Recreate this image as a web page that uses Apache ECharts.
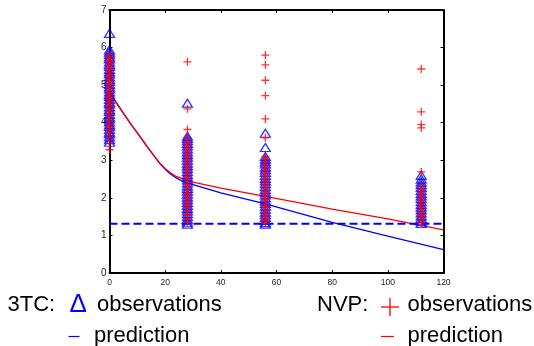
<!DOCTYPE html>
<html>
<head>
<meta charset="utf-8">
<script src="https://cdn.jsdelivr.net/npm/echarts@6/dist/echarts.min.js"></script>
<style>html,body{margin:0;padding:0;background:#fff;}#c{width:534px;height:346px;}</style>
</head>
<body>
<div id="c"></div>
<script>
// Observation times (weeks)
const obsTimes = [0, 28, 56, 112];
// 3TC observations per time
const tc3Obs0 = [6.38, 5.94, 5.88, 5.82, 5.75, 5.7, 5.62, 5.55, 5.5, 5.42, 5.35, 5.3, 5.22, 5.15, 5.1, 5.02, 4.95, 4.9, 4.82, 4.75, 4.7, 4.62, 4.55, 4.5, 4.42, 4.35, 4.3, 4.22, 4.15, 4.1, 4.02, 3.95, 3.9, 3.82, 3.75, 3.7, 3.62, 3.55, 3.48];
const tc3Obs28 = [4.52, 3.64, 3.58, 3.52, 3.45, 3.38, 3.3, 3.22, 3.15, 3.08, 3.0, 2.92, 2.85, 2.78, 2.7, 2.62, 2.55, 2.48, 2.4, 2.32, 2.25, 2.18, 2.1, 2.02, 1.95, 1.88, 1.8, 1.72, 1.65, 1.58, 1.5, 1.42, 1.35, 1.3];
const tc3Obs56 = [3.72, 3.34, 3.1, 3.03, 2.96, 2.9, 2.82, 2.75, 2.68, 2.6, 2.52, 2.45, 2.38, 2.3, 2.22, 2.15, 2.08, 2.0, 1.92, 1.85, 1.78, 1.7, 1.62, 1.55, 1.48, 1.4, 1.34, 1.3];
const tc3Obs112 = [2.6, 2.5, 2.42, 2.35, 2.28, 2.2, 2.12, 2.05, 1.98, 1.9, 1.82, 1.75, 1.68, 1.6, 1.52, 1.45, 1.38, 1.32];
// NVP observations per time
const nvpObs0 = [5.82, 5.76, 5.7, 5.64, 5.58, 5.52, 5.45, 5.4, 5.34, 5.28, 5.22, 5.15, 5.1, 5.04, 4.98, 4.92, 4.86, 4.8, 4.74, 4.68, 4.62, 4.56, 4.5, 4.44, 4.38, 4.32, 4.25, 4.18, 4.1, 4.02, 3.95, 3.88, 3.8, 3.72, 3.6, 3.45, 3.28];
const nvpObs28 = [5.62, 4.37, 3.82, 3.58, 3.48, 3.4, 3.32, 3.25, 3.18, 3.1, 3.02, 2.95, 2.88, 2.8, 2.72, 2.65, 2.58, 2.5, 2.42, 2.35, 2.28, 2.2, 2.12, 2.05, 1.98, 1.9, 1.82, 1.75, 1.65, 1.55, 1.45, 1.35];
const nvpObs56 = [5.8, 5.54, 5.13, 4.72, 4.1, 3.6, 3.1, 3.02, 2.95, 2.88, 2.8, 2.72, 2.65, 2.58, 2.5, 2.42, 2.35, 2.28, 2.2, 2.12, 2.05, 1.98, 1.9, 1.82, 1.75, 1.68, 1.6, 1.52, 1.45, 1.38, 1.33];
const nvpObs112 = [5.43, 4.29, 3.95, 3.86, 2.69, 2.3, 2.22, 2.15, 2.08, 2.0, 1.92, 1.85, 1.78, 1.7, 1.62, 1.55, 1.48, 1.4, 1.34];
// Predictions
const predTimes = [0, 2, 4, 6, 8, 10, 12, 14, 16, 18, 20, 22, 24, 26, 28, 30, 40, 56, 80, 100, 120];
const tc3Pred = [4.80, 4.58, 4.36, 4.14, 3.93, 3.73, 3.52, 3.32, 3.12, 2.92, 2.76, 2.63, 2.53, 2.45, 2.39, 2.35, 2.13, 1.84, 1.35, 0.98, 0.62];
const nvpPred = [4.80, 4.58, 4.36, 4.14, 3.93, 3.73, 3.52, 3.32, 3.12, 2.93, 2.78, 2.66, 2.57, 2.51, 2.46, 2.42, 2.26, 2.04, 1.70, 1.44, 1.15];
// Limit line
const limitX = [0, 120];
const limitY = [1.31, 1.31];
// Ticks
const xTicks = [0, 20, 40, 60, 80, 100, 120];
const yTicks = [0, 1, 2, 3, 4, 5, 6, 7];

function pts(t, arr) { return arr.map(v => [t, v]); }
const tc3Data = [].concat(pts(obsTimes[0], tc3Obs0), pts(obsTimes[1], tc3Obs28), pts(obsTimes[2], tc3Obs56), pts(obsTimes[3], tc3Obs112));
const nvpData = [].concat(pts(obsTimes[0], nvpObs0), pts(obsTimes[1], nvpObs28), pts(obsTimes[2], nvpObs56), pts(obsTimes[3], nvpObs112));
const zip = (a, b) => a.map((v, i) => [v, b[i]]);

const BLUE = '#0000ff', RED = '#ff0000';
const FF = '"Liberation Sans", Arial, sans-serif';
const chart = echarts.init(document.getElementById('c'));
const axBase = {
  type: 'value', splitLine: { show: false },
  axisLine: { show: true, onZero: false, lineStyle: { color: '#000', width: 2 } },
  axisTick: { show: true, inside: true, length: 3, lineStyle: { color: '#000', width: 1 } }
};
chart.setOption({
  animation: false,
  grid: { left: 109.5, right: 90.5, top: 10, bottom: 73, containLabel: false },
  xAxis: [
    Object.assign({}, axBase, { min: xTicks[0], max: xTicks[xTicks.length - 1], interval: 20, position: 'bottom',
      axisLabel: { margin: 5, fontSize: 8.5, color: '#222', fontFamily: FF } }),
    Object.assign({}, axBase, { min: xTicks[0], max: xTicks[xTicks.length - 1], interval: 20, position: 'top',
      axisLabel: { show: false } })
  ],
  yAxis: [
    Object.assign({}, axBase, { min: yTicks[0], max: yTicks[yTicks.length - 1], interval: 1, position: 'left',
      axisLabel: { margin: 3, fontSize: 10, color: '#222', fontFamily: FF } }),
    Object.assign({}, axBase, { min: yTicks[0], max: yTicks[yTicks.length - 1], interval: 1, position: 'right',
      axisLabel: { show: false } })
  ],
  series: [
    { type: 'line', data: zip(predTimes, tc3Pred), symbol: 'none', z: 1,
      lineStyle: { color: BLUE, width: 1.3 } },
    { type: 'line', data: zip(predTimes, nvpPred), symbol: 'none', z: 1,
      lineStyle: { color: RED, width: 1.3 } },
    { type: 'line', data: zip(limitX, limitY), symbol: 'none', z: 1,
      lineStyle: { color: BLUE, width: 2, type: [8, 4] } },
    { type: 'scatter', data: tc3Data, symbol: 'triangle', symbolSize: [10, 8], z: 3,
      itemStyle: { color: 'rgba(0,0,0,0)', borderColor: BLUE, borderWidth: 1.3 } },
    { type: 'scatter', data: nvpData, symbol: 'path://M0,4H8M4,0V8', symbolSize: 8, z: 4,
      itemStyle: { color: 'none', borderColor: RED, borderWidth: 1.3 } }
  ],
  graphic: [
    { type: 'text', style: { x: 7.5, y: 305, text: '3TC:', fontSize: 22, fontFamily: FF, fill: '#000', verticalAlign: 'middle' } },
    { type: 'text', style: { x: 69.5, y: 305, text: 'Δ', fontSize: 26, fontFamily: FF, fill: BLUE, verticalAlign: 'middle' } },
    { type: 'text', style: { x: 97, y: 305, text: 'observations', fontSize: 22, fontFamily: FF, fill: '#000', verticalAlign: 'middle' } },
    { type: 'line', shape: { x1: 68.5, y1: 336.5, x2: 79.5, y2: 336.5 }, style: { stroke: BLUE, lineWidth: 1.2 } },
    { type: 'text', style: { x: 94, y: 336, text: 'prediction', fontSize: 22, fontFamily: FF, fill: '#000', verticalAlign: 'middle' } },
    { type: 'text', style: { x: 317, y: 305, text: 'NVP:', fontSize: 22, fontFamily: FF, fill: '#000', verticalAlign: 'middle' } },
    { type: 'line', shape: { x1: 381, y1: 307, x2: 399, y2: 307 }, style: { stroke: RED, lineWidth: 1.3 } },
    { type: 'line', shape: { x1: 390, y1: 298, x2: 390, y2: 316 }, style: { stroke: RED, lineWidth: 1.3 } },
    { type: 'text', style: { x: 407.5, y: 305, text: 'observations', fontSize: 22, fontFamily: FF, fill: '#000', verticalAlign: 'middle' } },
    { type: 'line', shape: { x1: 381, y1: 336.5, x2: 394, y2: 336.5 }, style: { stroke: RED, lineWidth: 1.2 } },
    { type: 'text', style: { x: 407.5, y: 336, text: 'prediction', fontSize: 22, fontFamily: FF, fill: '#000', verticalAlign: 'middle' } }
  ]
});
</script>
</body>
</html>
